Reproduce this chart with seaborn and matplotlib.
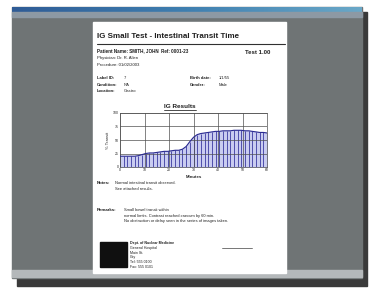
import matplotlib
matplotlib.use("Agg")
import matplotlib.pyplot as plt
import numpy as np
import pandas as pd
import seaborn as sns
from matplotlib.patches import Rectangle

# data
times = [0, 1.5, 3, 4.5, 6, 7.5, 9, 10.5, 12, 13.5, 15, 16.5, 18, 19.5, 21,
         22.5, 24, 25.5, 27, 28.5, 30, 31.5, 33, 34.5, 36, 37.5, 39, 40.5,
         42, 43.5, 45, 46.5, 48, 49.5, 51, 52.5, 54, 55.5, 57, 58.5, 60]
transit = [20, 20, 20, 20, 20, 21, 23, 25, 26, 26, 27, 28, 29, 29, 30,
           31, 31, 33, 38, 47, 55, 60, 62, 63, 64, 65, 66, 66,
           67, 67, 67, 68, 68, 68, 67, 67, 66, 65, 64, 64, 63]
x_ticks = [0, 10, 20, 30, 40, 50, 60]
y_ticks = [0, 25, 50, 75, 100]

report_title = "IG Small Test - Intestinal Transit Time"
chart_title = "IG Results"

sns.set_theme(style="white")
plt.rcParams['font.family'] = ['Liberation Sans', 'DejaVu Sans']

W, H = 375, 289
fig = plt.figure(figsize=(W / 100, H / 100), dpi=100)
fig.patch.set_facecolor("white")

# full-figure canvas in pixel units
bg = fig.add_axes([0, 0, 1, 1])
bg.axis("off")

# window shadow, frame, title bar
bg.add_patch(Rectangle((17, 12), 350, 274, color="#3a3a3a"))
bg.add_patch(Rectangle((12, 7), 350, 271, color="#6f7475"))
grad = np.linspace(0, 1, 256).reshape(1, -1)
tb_cmap = matplotlib.colors.LinearSegmentedColormap.from_list(
    "tb", ["#2f5c96", "#3f7fb0", "#6aa8c8"])
bg.imshow(grad, extent=(12, 362, 12, 7), cmap=tb_cmap, aspect="auto", zorder=2)
bg.add_patch(Rectangle((12, 12), 350, 5, color="#8d99a4", zorder=2))
bg.add_patch(Rectangle((12, 270), 350, 7, color="#b4b8ba", zorder=2))
bg.set_xlim(0, W)
bg.set_ylim(H, 0)

# page
bg.add_patch(Rectangle((93, 22), 193, 251, color="white", zorder=3))

def txt(x, y, s, size=3.0, bold=False, **kw):
    bg.text(x, y, s, fontsize=size, fontweight="bold" if bold else "normal",
            va="center", color="#202020", zorder=4, **kw)

txt(97, 36, report_title, size=5.8, bold=True)
bg.plot([97, 285], [44, 44], color="#303030", lw=0.8, zorder=4)
txt(97, 51, "Patient Name: SMITH, JOHN  Ref: 0001-23", size=3.3, bold=True)
txt(245, 52, "Test 1.00", size=4.3, bold=True)
txt(97, 58, "Physician: Dr. R. Allen", size=3.1)
txt(97, 65, "Procedure: 01/02/2003", size=3.1)
for i, (lab, val) in enumerate([("Label ID:", "7"), ("Condition:", "NA"), ("Location:", "Gastro")]):
    txt(97, 78 + i * 6.5, lab, size=3.0, bold=True)
    txt(124, 78 + i * 6.5, val, size=3.0)
for i, (lab, val) in enumerate([("Birth date:", "1/1/55"), ("Gender:", "Male")]):
    txt(190, 78 + i * 6.5, lab, size=3.0, bold=True)
    txt(219, 78 + i * 6.5, val, size=3.0)

txt(180, 106, chart_title, size=4.6, bold=True, ha="center")
bg.plot([164, 196], [110, 110], color="#303030", lw=0.6, zorder=4)

txt(97, 183, "Notes:", size=3.2, bold=True)
txt(115, 183, "Normal intestinal transit observed.", size=2.9)
txt(115, 189, "See attached results.", size=2.9)
txt(97, 210, "Remarks:", size=3.2, bold=True)
txt(124, 210, "Small bowel transit within", size=2.9)
txt(124, 216, "normal limits. Contrast reached caecum by 60 min.", size=2.9)
txt(124, 221, "No obstruction or delay seen in the series of images taken.", size=2.9)

bg.add_patch(Rectangle((100, 242), 27, 25, color="#101010", zorder=4))
for i, s in enumerate(["Dept. of Nuclear Medicine", "General Hospital", "Main St.",
                       "City", "Tel: 555 0100", "Fax: 555 0101"]):
    txt(130, 243 + i * 4.8, s, size=2.6, bold=(i == 0))
bg.plot([222, 252], [248, 248], color="#606060", lw=0.6, zorder=4)

# the chart
ax = fig.add_axes([120 / W, (H - 167) / H, 147 / W, 54 / H])
ax.set_zorder(5)
df = pd.DataFrame({"Time": times, "Transit": transit})
ax.fill_between(df["Time"], df["Transit"], color="#c9ccf0", zorder=1)
ax.vlines(df["Time"], 0, df["Transit"], color="#3a3aa0", lw=0.6, zorder=2)
sns.lineplot(data=df, x="Time", y="Transit", ax=ax, color="#2a2a90", lw=0.8, zorder=3)
ax.set_xlim(0, 60)
ax.set_ylim(0, 100)
ax.set_xticks(x_ticks)
ax.set_yticks(y_ticks)
ax.grid(True, color="#505050", lw=0.5)
ax.set_axisbelow(False)
ax.tick_params(labelsize=2.5, pad=1, length=0)
ax.set_xlabel("Minutes", fontsize=3.2, fontweight="bold", labelpad=2)
ax.set_ylabel("% Transit", fontsize=3.0, labelpad=2)
for s in ax.spines.values():
    s.set_color("#505050")
    s.set_linewidth(0.5)

fig.savefig("out.png", dpi=100)
